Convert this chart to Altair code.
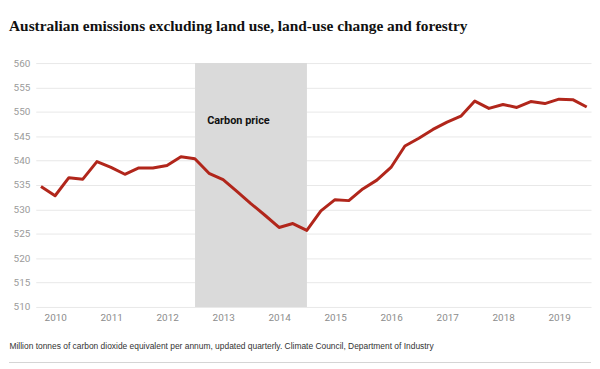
import altair as alt
import pandas as pd

# Quarterly emissions, Mt CO2-e per annum
quarters = [
    "2009-09-30", "2009-12-31", "2010-03-31", "2010-06-30",
    "2010-09-30", "2010-12-31", "2011-03-31", "2011-06-30",
    "2011-09-30", "2011-12-31", "2012-03-31", "2012-06-30",
    "2012-09-30", "2012-12-31", "2013-03-31", "2013-06-30",
    "2013-09-30", "2013-12-31", "2014-03-31", "2014-06-30",
    "2014-09-30", "2014-12-31", "2015-03-31", "2015-06-30",
    "2015-09-30", "2015-12-31", "2016-03-31", "2016-06-30",
    "2016-09-30", "2016-12-31", "2017-03-31", "2017-06-30",
    "2017-09-30", "2017-12-31", "2018-03-31", "2018-06-30",
    "2018-09-30", "2018-12-31", "2019-03-31", "2019-06-30",
]
emissions = [
    534.7, 532.8, 536.5, 536.2,
    539.8, 538.6, 537.2, 538.5,
    538.5, 539.0, 540.8, 540.4,
    537.4, 536.1, 533.7, 531.2,
    528.8, 526.3, 527.1, 525.7,
    529.7, 532.0, 531.8, 534.2,
    536.0, 538.6, 543.0, 544.6,
    546.4, 547.9, 549.1, 552.2,
    550.7, 551.5, 550.9, 552.1,
    551.7, 552.6, 552.5, 551.0,
]

band_start = ["2012-07-01"]
band_end = ["2014-07-01"]
band_label = ["Carbon price"]
band_label_x = ["2012-09-18"]
band_label_y = [548.2]

y_ticks = [510, 515, 520, 525, 530, 535, 540, 545, 550, 555, 560]

title_text = "Australian emissions excluding land use, land-use change and forestry"
caption_text = ("Million tonnes of carbon dioxide equivalent per annum, updated quarterly. "
                "Climate Council, Department of Industry")

W, H = 560, 246

df = pd.DataFrame({"quarter": quarters, "emissions": emissions})
band_df = pd.DataFrame({"start": band_start, "end": band_end, "label": band_label,
                        "lx": band_label_x, "ly": band_label_y})

x_scale = alt.Scale(domain=[alt.DateTime(year=2009, month=8, date=27),
                            alt.DateTime(year=2019, month=7, date=28)])
y_scale = alt.Scale(domain=[510, 560], nice=False, zero=False)

x_axis = alt.Axis(
    format="%Y", tickCount=alt.TickCount(interval="year", step=1),
    grid=False, domain=False, ticks=False, labelPadding=6,
    labelColor="#8c8c8c", labelFont="Roboto", labelFontSize=10,
    title=caption_text, titleX=-27, titleY=39, titleAlign="left",
    titleAnchor="start", titleBaseline="middle", titleFontWeight="normal",
    titleFont="Liberation Sans", titleFontSize=8.5, titleColor="#333333",
)
y_axis = alt.Axis(
    values=y_ticks, tickCount=11, grid=True, gridColor="#e8e8e8", gridWidth=1,
    domain=False, ticks=False, labelPadding=6, labelOverlap=False,
    labelColor="#9a9a9a", labelFont="Roboto", labelFontSize=10, title=None,
)

band = alt.Chart(band_df).mark_rect(color="#dadada").encode(
    x=alt.X("start:T", scale=x_scale, axis=x_axis),
    x2="end:T",
    y=alt.value(0),
    y2=alt.value(H),
)

line = alt.Chart(df).mark_line(color="#b1261b", strokeWidth=3, strokeJoin="round").encode(
    x=alt.X("quarter:T", scale=x_scale, axis=x_axis),
    y=alt.Y("emissions:Q", scale=y_scale, axis=y_axis),
)

label = alt.Chart(band_df).mark_text(
    align="left", baseline="middle", font="Roboto", fontSize=11,
    fontWeight="bold", color="#111111",
).encode(
    x=alt.X("lx:T", scale=x_scale, axis=x_axis),
    y=alt.Y("ly:Q", scale=y_scale, axis=y_axis),
    text="label:N",
)

bottom_rule = alt.Chart(band_df).mark_rule(color="#d4d4d4", strokeWidth=1).encode(
    x=alt.value(-27), x2=alt.value(W), y=alt.value(302),
)

chart = alt.layer(band, line, label, bottom_rule).properties(
    width=W, height=H,
    title=alt.TitleParams(
        text=title_text, font="Liberation Serif", fontSize=15.5, fontWeight="bold",
        color="#111111", anchor="start", frame="group", dx=-27, offset=24,
    ),
    padding={"top": 9, "left": 0, "right": 0, "bottom": 0},
    background="white",
).configure_view(stroke=None)

chart.save("out.html", embed_options={"renderer": "svg", "actions": False})
